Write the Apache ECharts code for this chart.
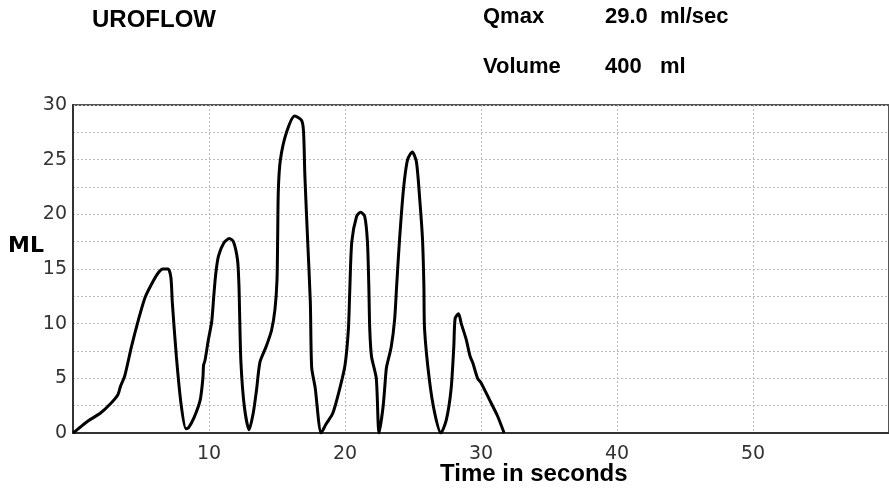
<!DOCTYPE html>
<html>
<head>
<meta charset="utf-8">
<title>UROFLOW</title>
<script src="https://cdn.jsdelivr.net/npm/echarts@6/dist/echarts.min.js"></script>
<style>
  html, body { margin: 0; padding: 0; background: #fff; }
  #chart { width: 889px; height: 489px; }
</style>
</head>
<body>
<div id="chart"></div>
<script>
// time (s) and flow
var times = [0, 0.5, 1.1, 2.0, 2.7, 3.3, 3.5, 3.8, 4.3, 4.8, 5.3, 5.9, 6.3, 6.6, 7.0, 7.2, 7.3, 7.6, 7.95, 8.3,
  8.5, 8.9, 9.35, 9.55, 9.6, 9.7, 9.95, 10.2, 10.35, 10.5, 10.7, 11.1, 11.5, 11.8, 12.1, 12.2, 12.25, 12.35, 12.6, 12.95,
  13.25, 13.5, 13.75, 14.2, 14.6, 14.85, 15.0, 15.05, 15.1, 15.25, 15.7, 16.3, 16.8, 16.95, 17.05, 17.25, 17.45, 17.55, 17.8, 18.25,
  18.6, 19.1, 19.6, 20.0, 20.25, 20.35, 20.5, 20.85, 21.15, 21.45, 21.65, 21.75, 21.82, 21.95, 22.3, 22.5,
  22.8, 23.0, 23.05, 23.4, 23.65, 23.8, 24.0, 24.3, 24.6, 24.95, 25.25, 25.5, 25.7, 25.8, 25.85, 26.2, 26.6, 27.05,
  27.45, 27.8, 28.0, 28.1, 28.35, 28.55, 28.9, 29.2, 29.4, 29.75, 30.0, 30.6, 31.2, 31.7];
var flow = [0, 0.5, 1.1, 1.8, 2.6, 3.5, 4.3, 5.2, 7.9, 10.3, 12.4, 13.9, 14.7, 15.0, 15.0, 14.2, 12.0, 7.0, 2.6, 0.4,
  0.5, 1.4, 3.0, 5.0, 6.2, 6.6, 8.5, 10.2, 12.5, 14.6, 16.2, 17.4, 17.8, 17.5, 15.8, 13.6, 11.0, 6.4, 2.4, 0.3,
  1.8, 4.0, 6.5, 7.9, 9.4, 11.3, 14.0, 18.0, 22.3, 25.0, 27.5, 29.0, 28.6, 27.6, 23.5, 17.7, 12.0, 6.0, 4.2, 0,
  0.8, 1.8, 4.0, 6.2, 9.5, 13.0, 17.5, 19.8, 20.2, 19.8, 17.5, 13.5, 9.5, 7.0, 5.0, 0,
  2.4, 5.4, 6.0, 7.9, 10.4, 13.5, 17.5, 22.3, 25.0, 25.7, 24.8, 21.3, 17.7, 13.5, 9.5, 4.9, 1.8, 0,
  1.2, 4.0, 7.9, 10.5, 10.9, 10.0, 8.6, 7.0, 6.4, 5.0, 4.6, 3.1, 1.6, 0];

var title = 'UROFLOW';
var qmaxLabel = 'Qmax', qmaxValue = '29.0', qmaxUnit = 'ml/sec';
var volLabel = 'Volume', volValue = '400', volUnit = 'ml';
var xName = 'Time in seconds';
var yName = 'ML';

var points = [];
for (var i = 0; i < times.length; i++) {
  points.push([times[i], flow[i]]);
}

var chart = echarts.init(document.getElementById('chart'));

var boldFont = 'bold 22px "Liberation Sans", Arial, sans-serif';

var option = {
  animation: false,
  backgroundColor: '#fff',
  grid: {
    left: 73,
    top: 105,
    right: -3,
    bottom: 56,
    show: true,
    borderColor: '#555',
    borderWidth: 2
  },
  xAxis: {
    type: 'value',
    min: 0,
    max: 60,
    interval: 10,
    axisLine: { lineStyle: { color: '#333', width: 2 } },
    axisTick: { show: false },
    axisLabel: {
      showMinLabel: false,
      showMaxLabel: false,
      margin: 12,
      color: '#333',
      fontSize: 19,
      fontFamily: 'DejaVu Sans'
    },
    splitLine: { show: true, lineStyle: { color: '#bbb', type: [2, 2], width: 1 } }
  },
  yAxis: {
    type: 'value',
    min: 0,
    max: 30,
    interval: 2.5,
    axisLine: { show: true, lineStyle: { color: '#333', width: 2 } },
    axisTick: { show: false },
    axisLabel: {
      margin: 6,
      color: '#333',
      fontSize: 19,
      fontFamily: 'DejaVu Sans',
      formatter: function (v) {
        return v % 5 === 0 ? String(v) : '';
      }
    },
    splitLine: { show: true, lineStyle: { color: '#bbb', type: [2, 2], width: 1 } }
  },
  series: [{
    type: 'line',
    data: points,
    showSymbol: false,
    smooth: 0.25,
    lineStyle: { color: '#000', width: 3 }
  }],
  graphic: [
    { type: 'text', left: 92, top: 8, style: { text: title, font: 'bold 24px "Liberation Sans", Arial, sans-serif', fill: '#000' } },
    { type: 'text', left: 483, top: 6, style: { text: qmaxLabel, font: boldFont, fill: '#000' } },
    { type: 'text', left: 605, top: 6, style: { text: qmaxValue, font: boldFont, fill: '#000' } },
    { type: 'text', left: 660, top: 6, style: { text: qmaxUnit, font: boldFont, fill: '#000' } },
    { type: 'text', left: 483, top: 56, style: { text: volLabel, font: boldFont, fill: '#000' } },
    { type: 'text', left: 605, top: 56, style: { text: volValue, font: boldFont, fill: '#000' } },
    { type: 'text', left: 660, top: 56, style: { text: volUnit, font: boldFont, fill: '#000' } },
    { type: 'text', left: 8, top: 235, style: { text: yName, font: 'bold 22px "DejaVu Sans", sans-serif', fill: '#000' } },
    { type: 'text', left: 440, top: 462, style: { text: xName, font: 'bold 24px "Liberation Sans", Arial, sans-serif', fill: '#000' } }
  ]
};

chart.setOption(option);
</script>
</body>
</html>
